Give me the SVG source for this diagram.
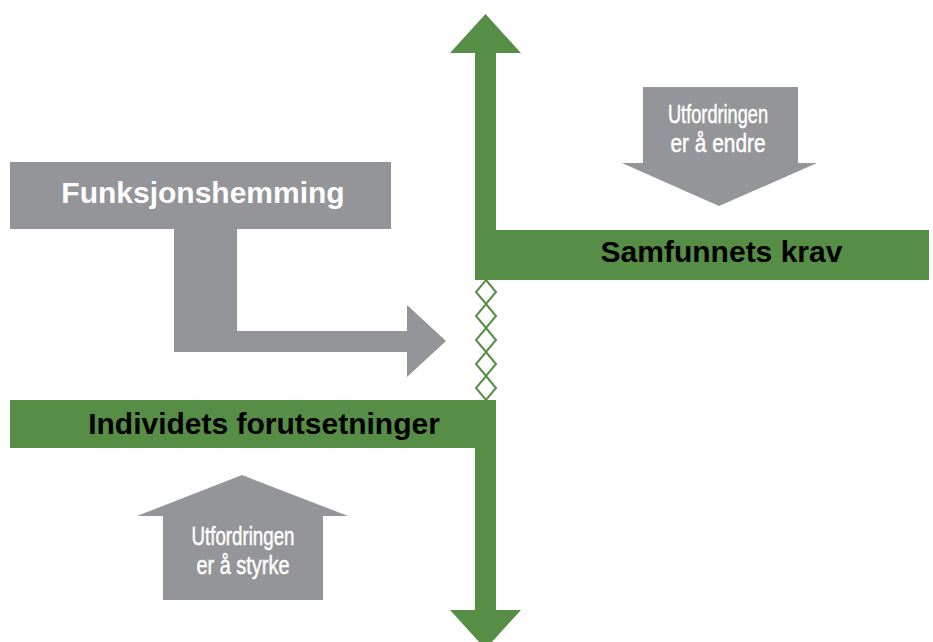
<svg xmlns="http://www.w3.org/2000/svg" width="933" height="642" viewBox="0 0 933 642">
<style>
.green{fill:#568e46}
.gray{fill:#939598}
.lbl{font-family:"Liberation Sans",Arial,sans-serif;font-weight:bold;font-size:30px}
.cond{font-family:"Liberation Sans",Arial,sans-serif;font-size:26px;fill:#ffffff;stroke:#ffffff;stroke-width:0.5}
.dia{fill:#ffffff;stroke:#568e46;stroke-width:2}
</style>
<rect width="933" height="642" fill="#ffffff"/>
<g id="connectors">
<path class="green" d="M485.5,14 L521,53 L496,53 L496,230 L475,230 L475,53 L450,53 Z"/>
<path class="green" d="M475,448 L496,448 L496,610 L521,610 L485.5,649 L450,610 L475,610 Z"/>
<g id="zigzag">
<path class="dia" d="M486,280 L496,292 L486,304 L476,292 Z"/>
<path class="dia" d="M486,304 L496,316 L486,328 L476,316 Z"/>
<path class="dia" d="M486,328 L496,340 L486,352 L476,340 Z"/>
<path class="dia" d="M486,352 L496,364 L486,376 L476,364 Z"/>
<path class="dia" d="M486,376 L496,388 L486,400 L476,388 Z"/>
</g>
<path class="gray" d="M174,228 L237,228 L237,331 L407,331 L407,305 L446,341 L407,377 L407,352 L174,352 Z"/>
</g>
<g id="samfunnets-krav">
<rect class="green" x="475" y="230" width="454" height="50"/>
<text class="lbl" x="721.5" y="262" text-anchor="middle" fill="#000000">Samfunnets krav</text>
</g>
<g id="individets-forutsetninger">
<rect class="green" x="10" y="400" width="486" height="48"/>
<text class="lbl" x="264" y="434" text-anchor="middle" fill="#000000">Individets forutsetninger</text>
</g>
<g id="funksjonshemming">
<rect class="gray" x="10" y="162" width="381" height="67"/>
<text class="lbl" x="203" y="203" text-anchor="middle" fill="#ffffff">Funksjonshemming</text>
</g>
<g id="utfordringen-endre">
<path class="gray" d="M643,87 L798,87 L798,163 L817,163 L719,206 L622,163 L643,163 Z"/>
<text class="cond" x="718" y="123" text-anchor="middle" textLength="100" lengthAdjust="spacingAndGlyphs">Utfordringen</text>
<text class="cond" x="718" y="152" text-anchor="middle" textLength="95" lengthAdjust="spacingAndGlyphs">er å endre</text>
</g>
<g id="utfordringen-styrke">
<path class="gray" d="M242,475 L348,516 L323,516 L323,600 L163,600 L163,516 L137,516 Z"/>
<text class="cond" x="243" y="545" text-anchor="middle" textLength="103" lengthAdjust="spacingAndGlyphs">Utfordringen</text>
<text class="cond" x="243" y="574" text-anchor="middle" textLength="93" lengthAdjust="spacingAndGlyphs">er å styrke</text>
</g>
</svg>
